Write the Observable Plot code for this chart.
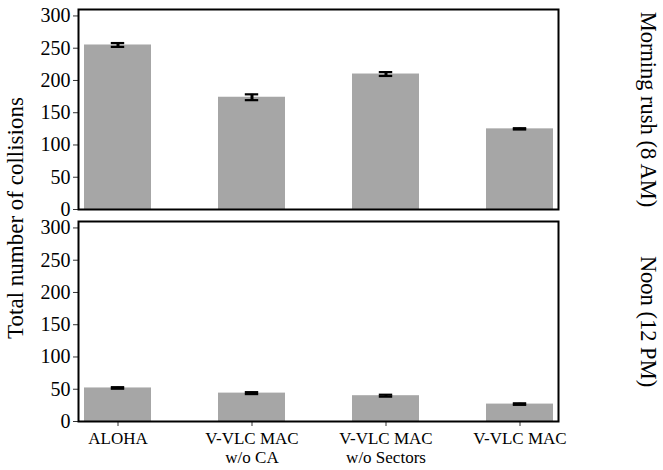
<!DOCTYPE html>
<html>
<head>
<meta charset="utf-8">
<script src="https://cdn.jsdelivr.net/npm/d3@7"></script>
<script src="https://cdn.jsdelivr.net/npm/@observablehq/plot@0.6"></script>
<style>
  body { margin: 0; background: #fff; }
</style>
</head>
<body>
<div id="chart"></div>
<script>
const categories = ["ALOHA", "V-VLC MAC w/o CA", "V-VLC MAC w/o Sectors", "V-VLC MAC"];
const tickLabels = ["ALOHA", "V-VLC MAC\nw/o CA", "V-VLC MAC\nw/o Sectors", "V-VLC MAC"];
const periods = ["Morning rush (8 AM)", "Noon (12 PM)"];
const morningValues = [255, 174, 210, 125];
const morningErrors = [3, 4.5, 3, 1];
const noonValues = [52, 44, 40, 27];
const noonErrors = [1.2, 1.5, 1.5, 1.2];
const yTicks = [0, 50, 100, 150, 200, 250, 300];
const yLabel = "Total number of collisions";

const rows = [];
categories.forEach((c, i) => {
  rows.push({period: periods[0], method: c, value: morningValues[i], err: morningErrors[i]});
  rows.push({period: periods[1], method: c, value: noonValues[i], err: noonErrors[i]});
});

const fmt = d => tickLabels[categories.indexOf(d)];

const chart = Plot.plot({
  width: 663,
  height: 470,
  marginLeft: 78,
  marginRight: 105,
  marginTop: 8,
  marginBottom: 49,
  style: {fontFamily: "Liberation Serif", fontSize: "17px", color: "black", background: "white"},
  x: {domain: categories, paddingInner: 0.5, paddingOuter: 0.03},
  y: {domain: [0, 310]},
  fy: {domain: periods, paddingInner: 0.057, paddingOuter: 0, axis: null},
  marks: [
    Plot.barY(rows, {x: "method", y: "value", fy: "period", fill: "#a6a6a6"}),
    Plot.ruleX(rows, {x: "method", y1: d => d.value - d.err, y2: d => d.value + d.err, fy: "period", stroke: "black", strokeWidth: 3}),
    Plot.tickY(rows, {x: "method", y: d => d.value - d.err, fy: "period", stroke: "black", strokeWidth: 2.2, insetLeft: 26.8, insetRight: 26.8}),
    Plot.tickY(rows, {x: "method", y: d => d.value + d.err, fy: "period", stroke: "black", strokeWidth: 2.2, insetLeft: 26.8, insetRight: 26.8}),
    Plot.axisY({ticks: yTicks, tickSize: 5, tickPadding: 3, label: null, stroke: "#333", fontSize: 20}),
    Plot.axisX({tickSize: 5, tickPadding: 4, label: null, tickFormat: fmt, stroke: "#333", fontSize: 17, lineHeight: 1.12}),
    Plot.frame({stroke: "black", strokeWidth: 2}),
    Plot.text(periods, {fy: d => d, text: d => d, frameAnchor: "right", rotate: 90, dx: 90, textAnchor: "middle", lineAnchor: "middle", fontSize: 22.5, fill: "black"})
  ]
});

const svg = d3.select(chart);
svg.append("text")
  .attr("transform", "translate(18,218) rotate(-90)")
  .attr("text-anchor", "middle")
  .attr("dominant-baseline", "middle")
  .attr("font-size", 23)
  .attr("fill", "black")
  .text(yLabel);

document.getElementById("chart").appendChild(chart);
</script>
</body>
</html>
